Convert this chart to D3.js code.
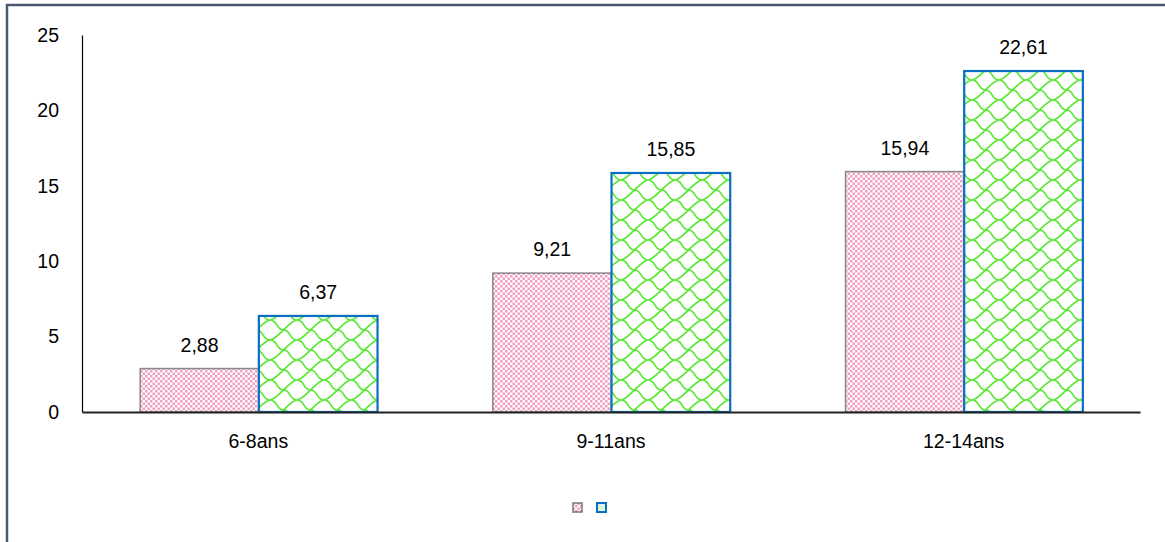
<!DOCTYPE html>
<html><head><meta charset="utf-8">
<script src="https://cdn.jsdelivr.net/npm/d3@7"></script>
<style>body{margin:0;background:#fff}svg{display:block}</style>
</head><body>
<script>
const categories = ["6-8ans", "9-11ans", "12-14ans"];
const seriesA = [2.88, 9.21, 15.94];
const seriesB = [6.37, 15.85, 22.61];
const yTicks = [0, 5, 10, 15, 20, 25];

const W = 1165, H = 542;
const svg = d3.select("body").append("svg").attr("width", W).attr("height", H);
const defs = svg.append("defs");

// pink checker pattern
const pk = defs.append("pattern").attr("id", "pink").attr("patternUnits", "userSpaceOnUse")
  .attr("width", 5).attr("height", 5);
pk.append("rect").attr("width", 5).attr("height", 5).attr("fill", "#fff");
pk.append("rect").attr("width", 2.5).attr("height", 2.5).attr("fill", "#f2a0c2");
pk.append("rect").attr("x", 2.5).attr("y", 2.5).attr("width", 2.5).attr("height", 2.5).attr("fill", "#f2a0c2");

// green wave pattern
const gp = defs.append("pattern").attr("id", "green").attr("patternUnits", "userSpaceOnUse")
  .attr("width", 27).attr("height", 20);
gp.append("rect").attr("width", 27).attr("height", 20).attr("fill", "#fff");
gp.append("path")
  .attr("d", "M0,0 C8,0 6,10 13.5,10 C21,10 19,20 27,20 M13.5,10 C17,7 22,1 27,0 M0,20 C5,19 10,13 13.5,10")
  .attr("fill", "none").attr("stroke", "#58e832").attr("stroke-width", 1.7);

// frame
svg.append("path").attr("d", "M7,542 V5 H1165").attr("fill", "none")
  .attr("stroke", "#4a5870").attr("stroke-width", 2.5);

const x0 = d3.scaleBand().domain(categories).range([82, 1140]).padding(0);
const x1 = d3.scaleBand().domain(["A", "B"]).range([0.165 * x0.bandwidth(), 0.838 * x0.bandwidth()]).padding(0);
const y = d3.scaleLinear().domain([0, 25]).range([412, 35]);

const font = "Liberation Sans, Arial, sans-serif";
const fs = 19.5;

// bars
const g = svg.append("g");
categories.forEach((c, i) => {
  const vals = [{k: "A", v: seriesA[i]}, {k: "B", v: seriesB[i]}];
  vals.forEach(d => {
    const bx = x0(c) + x1(d.k);
    g.append("rect")
      .attr("x", bx).attr("y", y(d.v))
      .attr("width", x1.bandwidth()).attr("height", y(0) - y(d.v))
      .attr("fill", d.k === "A" ? "url(#pink)" : "url(#green)")
      .attr("stroke", d.k === "A" ? "#888" : "#0a6fc2")
      .attr("stroke-width", d.k === "A" ? 1.5 : 2.2);
    g.append("text")
      .attr("x", bx + x1.bandwidth() / 2).attr("y", y(d.v) - 17)
      .attr("text-anchor", "middle").attr("font-family", font).attr("font-size", fs)
      .attr("fill", "#000")
      .text(d3.format(".2f")(d.v).replace(".", ","));
  });
});

// y axis
const yAxis = d3.axisLeft(y).tickValues(yTicks).tickSize(0).tickPadding(23).tickFormat(d => d);
const ya = svg.append("g").attr("transform", "translate(82,0)").call(yAxis);
ya.select(".domain").attr("stroke", "#000").attr("stroke-width", 1.2);
ya.selectAll("text").attr("font-family", font).attr("font-size", fs).attr("fill", "#000");

// x axis
const xAxis = d3.axisBottom(x0).tickSize(0).tickPadding(22);
const xa = svg.append("g").attr("transform", "translate(0,412)").call(xAxis);
xa.select(".domain").attr("stroke", "#222").attr("stroke-width", 2);
xa.selectAll("text").attr("font-family", font).attr("font-size", fs).attr("fill", "#000");

// legend
svg.append("rect").attr("x", 573).attr("y", 503).attr("width", 9).attr("height", 9)
  .attr("fill", "url(#pink)").attr("stroke", "#777").attr("stroke-width", 1.5);
svg.append("rect").attr("x", 597).attr("y", 503).attr("width", 9).attr("height", 9)
  .attr("fill", "#dff5d8").attr("stroke", "#0a6fc2").attr("stroke-width", 2);
</script>
</body></html>
